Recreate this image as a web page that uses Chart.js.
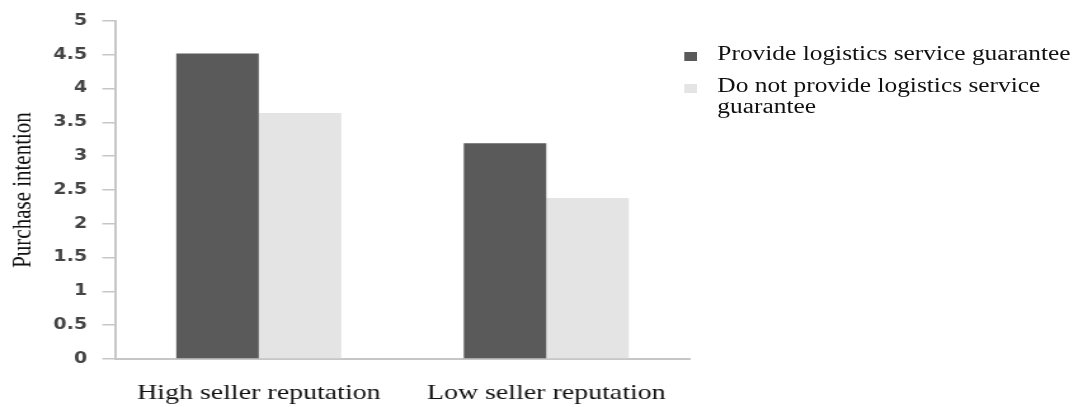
<!DOCTYPE html>
<html>
<head>
<meta charset="utf-8">
<script src="https://cdn.jsdelivr.net/npm/chart.js@4/dist/chart.umd.min.js"></script>
<style>
    html, body { margin: 0; padding: 0; background: #fff; overflow: hidden; }
    /* the source picture is stretched sideways, so draw narrow and stretch */
    #wrap {
        position: relative;
        width: 853px;
        height: 407px;
        transform: scaleX(1.2696);
        transform-origin: 0 0;
    }
    #chart { display: block; }
    .leg-item {
        position: absolute;
        left: 539px;
        width: 330px;
        font-family: "Liberation Serif", "Times New Roman", serif;
        font-size: 20px;
        line-height: 21px;
        color: #111;
    }
    .leg-item .sw {
        position: absolute;
        left: 0;
        top: 9px;
        width: 10px;
        height: 9px;
    }
    .leg-item .txt {
        display: block;
        margin-left: 26px;
        width: 300px;
    }
</style>
</head>
<body>
<div id="wrap">
    <canvas id="chart" width="853" height="407"></canvas>
    <div id="legend"></div>
</div>
<script>
// chart data
const categories = ['High seller reputation', 'Low seller reputation'];
const seriesNames = ['Provide logistics service guarantee', 'Do not provide logistics service guarantee'];
const provideValues = [4.52, 3.19];
const notProvideValues = [3.64, 2.38];
const seriesColors = ['#5a5a5a', '#e4e4e4'];
const yTitle = 'Purchase intention';

const axisColor = '#c6c6c6';

const ctx = document.getElementById('chart').getContext('2d');
const chart = new Chart(ctx, {
    type: 'bar',
    data: {
        labels: categories,
        datasets: [
            {
                label: seriesNames[0],
                data: provideValues,
                backgroundColor: seriesColors[0],
                borderWidth: 0,
                barPercentage: 1.0,
                categoryPercentage: 0.574
            },
            {
                label: seriesNames[1],
                data: notProvideValues,
                backgroundColor: seriesColors[1],
                borderWidth: 0,
                barPercentage: 1.0,
                categoryPercentage: 0.574
            }
        ]
    },
    options: {
        responsive: false,
        animation: false,
        layout: {
            padding: { top: 16, right: 309.5, bottom: 0, left: 0 }
        },
        plugins: {
            legend: { display: false },
            tooltip: { enabled: false }
        },
        scales: {
            x: {
                grid: { display: false },
                border: { display: true, color: axisColor, width: 2 },
                ticks: {
                    color: '#111',
                    padding: 13,
                    font: { family: '"Liberation Serif", "Times New Roman", serif', size: 22 }
                },
                afterFit: (scale) => { scale.height = 48; }
            },
            y: {
                min: 0,
                max: 5,
                grid: {
                    drawOnChartArea: false,
                    drawTicks: true,
                    tickLength: 10,
                    color: axisColor,
                    lineWidth: 1.5
                },
                border: { display: true, color: axisColor, width: 2 },
                ticks: {
                    stepSize: 0.5,
                    padding: 12,
                    color: '#444',
                    font: { family: '"DejaVu Sans", sans-serif', size: 15, weight: 'bold' },
                    callback: (value) => String(value)
                },
                title: {
                    display: true,
                    text: yTitle,
                    color: '#111',
                    padding: { top: 6, bottom: 0 },
                    font: { family: '"Liberation Serif", "Times New Roman", serif', size: 21 }
                },
                afterFit: (scale) => { scale.width = 90.6; }
            }
        }
    }
});

// legend drawn as html so the second label wraps like the original
const legendTops = [43, 75];
const legend = document.getElementById('legend');
seriesNames.forEach((name, i) => {
    const item = document.createElement('div');
    item.className = 'leg-item';
    item.style.top = legendTops[i] + 'px';
    item.innerHTML = `<span class="sw" style="background:${seriesColors[i]}"></span><span class="txt">${name}</span>`;
    legend.appendChild(item);
});
</script>
</body>
</html>
